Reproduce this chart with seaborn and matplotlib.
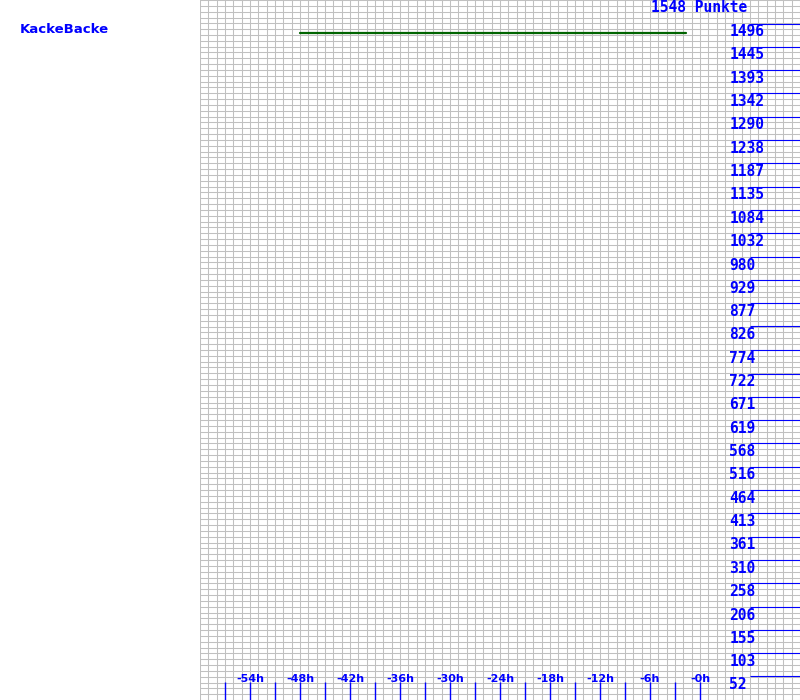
import matplotlib
matplotlib.use("Agg")
import matplotlib.pyplot as plt
import seaborn as sns
import numpy as np
import pandas as pd

# ---- data ----
player = "KackeBacke"
total_points = 1548
hours = [-48, -1.7]
points = [1548, 1548]
y_tick_values = [52, 103, 155, 206, 258, 310, 361, 413, 464, 516, 568, 619, 671, 722,
                 774, 826, 877, 929, 980, 1032, 1084, 1135, 1187, 1238, 1290, 1342,
                 1393, 1445, 1496]
x_tick_hours = [-57, -54, -51, -48, -45, -42, -39, -36, -33, -30, -27, -24, -21, -18,
                -15, -12, -9, -6, -3, 0]
x_label_hours = [-54, -48, -42, -36, -30, -24, -18, -12, -6, 0]
x_labels = ["-54h", "-48h", "-42h", "-36h", "-30h", "-24h", "-18h", "-12h", "-6h", "-0h"]

sns.set_theme(style="white")
plt.rcParams["font.family"] = ["DejaVu Sans Mono", "DejaVu Sans"]

BLUE = "#0000ff"
GRID = "#c0c0c0"
W, H = 800, 700
PT = 72 / 100  # points per pixel
fig = plt.figure(figsize=(8, 7), dpi=100)
fig.patch.set_facecolor("white")

ax = fig.add_axes([0.25, 0, 0.75, 1])
ax.set_xlim(-60, 12)
ax.set_ylim(0, total_points)
for s in ax.spines.values():
    s.set_visible(False)

# grid: one column per hour, four rows per label interval
step = total_points / 30
ax.set_xticks(np.arange(-60, 13, 1))
ax.set_yticks(np.arange(0, 121) * step / 4)
ax.tick_params(length=0, labelbottom=False, labelleft=False)
ax.grid(True, color=GRID, linewidth=0.75)
ax.set_axisbelow(True)

# y tick lines and labels (right side)
ax.hlines(y_tick_values, 6, 12, color=BLUE, linewidth=0.8, zorder=3)
for v in y_tick_values:
    ax.annotate(str(v), xy=(3.5, v), xytext=(0, -12.7 * PT), textcoords="offset points",
                ha="left", va="baseline", color=BLUE, fontsize=10.5, fontweight="bold",
                zorder=4)

# x tick lines and labels (bottom)
xt = ax.get_xaxis_transform()
ax.vlines(x_tick_hours, 0, 18 / H, transform=xt, color=BLUE, linewidth=1.0, zorder=3)
for h, lab in zip(x_label_hours, x_labels):
    ax.text(h, 18 / H, lab, transform=xt, ha="center", va="baseline", color=BLUE,
            fontsize=8, fontweight="bold", family="DejaVu Sans", zorder=4)

# header
ax.text(5.64, 1 - 11.5 / H, f"{total_points} Punkte", transform=xt, ha="right",
        va="baseline", color=BLUE, fontsize=10.5, fontweight="bold")
fig.text(20 / W, 1 - 33 / H, player, ha="left", va="baseline", color=BLUE,
         fontsize=9.5, fontweight="bold", family="DejaVu Sans")

# data line on its own scale
ax2 = ax.twinx()
ax2.set_ylim(0, total_points * H / (H - 33))
ax2.axis("off")
df = pd.DataFrame({"h": hours, "p": points})
sns.lineplot(data=df, x="h", y="p", ax=ax2, color="#006400", linewidth=1.6)
ax2.set_xlim(-60, 12)

fig.savefig("out.png", dpi=100, facecolor="white")
